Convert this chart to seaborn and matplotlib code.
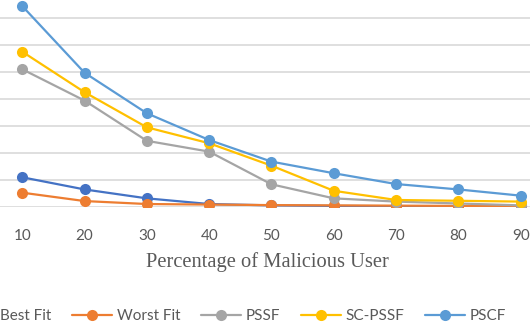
import matplotlib
matplotlib.use("Agg")
import matplotlib.pyplot as plt
import pandas as pd
import seaborn as sns

# valores (unidade = uma linha de grade)
percentagens = [10, 20, 30, 40, 50, 60, 70, 80, 90]
series = ["Best Fit", "Worst Fit", "PSSF", "SC-PSSF", "PSCF"]
best_fit = [1.09, 0.64, 0.31, 0.10, 0.05, 0.03, 0.02, 0.02, 0.02]
worst_fit = [0.52, 0.21, 0.10, 0.08, 0.06, 0.05, 0.04, 0.03, 0.02]
pssf = [5.09, 3.93, 2.44, 2.04, 0.83, 0.31, 0.19, 0.12, 0.05]
sc_pssf = [5.74, 4.24, 2.94, 2.35, 1.52, 0.59, 0.25, 0.22, 0.19]
pscf = [7.43, 4.96, 3.46, 2.47, 1.67, 1.24, 0.84, 0.64, 0.41]

valores = [best_fit, worst_fit, pssf, sc_pssf, pscf]
df = pd.DataFrame(
    [(s, x, v) for s, vals in zip(series, valores) for x, v in zip(percentagens, vals)],
    columns=["serie", "pct", "valor"],
)

cores = {
    "Best Fit": "#4472C4",
    "Worst Fit": "#ED7D31",
    "PSSF": "#A5A5A5",
    "SC-PSSF": "#FFC000",
    "PSCF": "#5B9BD5",
}

sns.set_style("white")
plt.rcParams["font.family"] = ["Lato", "DejaVu Sans"]

fig = plt.figure(figsize=(5.3, 3.22), dpi=100)
# o gráfico original está recortado: o eixo passa das bordas da imagem
ax = fig.add_axes([-0.0168, 0.358, 1.058, 0.671])

sns.lineplot(
    data=df,
    x="pct",
    y="valor",
    hue="serie",
    hue_order=series,
    palette=cores,
    marker="o",
    markersize=8,
    markeredgewidth=0,
    linewidth=1.6,
    ax=ax,
)

ax.set_xlim(5, 95)
ax.set_ylim(0, 8)
ax.set_xticks(percentagens)
ax.set_yticks(range(0, 9))
ax.set_yticklabels([])
ax.grid(axis="y", color="#d9d9d9", linewidth=1.2)
ax.set_axisbelow(True)
for lado in ax.spines.values():
    lado.set_visible(False)
ax.tick_params(axis="x", length=0, pad=16, labelsize=11, labelcolor="#595959")
ax.tick_params(axis="y", length=0)

ax.set_ylabel("")
ax.set_xlabel("Percentage of Malicious User", family="Liberation Serif",
              fontsize=14.8, color="#595959")
ax.xaxis.set_label_coords(0.4937, -0.2546)
ax.xaxis.label.set_va("center")

handles, labels = ax.get_legend_handles_labels()
ax.get_legend().remove()
fig.legend(
    handles, labels,
    loc="center left",
    bbox_to_anchor=(-0.084, 1 - 316 / 322),
    ncol=5,
    frameon=False,
    fontsize=11,
    labelcolor="#595959",
    handlelength=2.6,
    handletextpad=0.33,
    columnspacing=1.35,
    borderpad=0,
    borderaxespad=0,
)

fig.savefig("out.png", dpi=100)
